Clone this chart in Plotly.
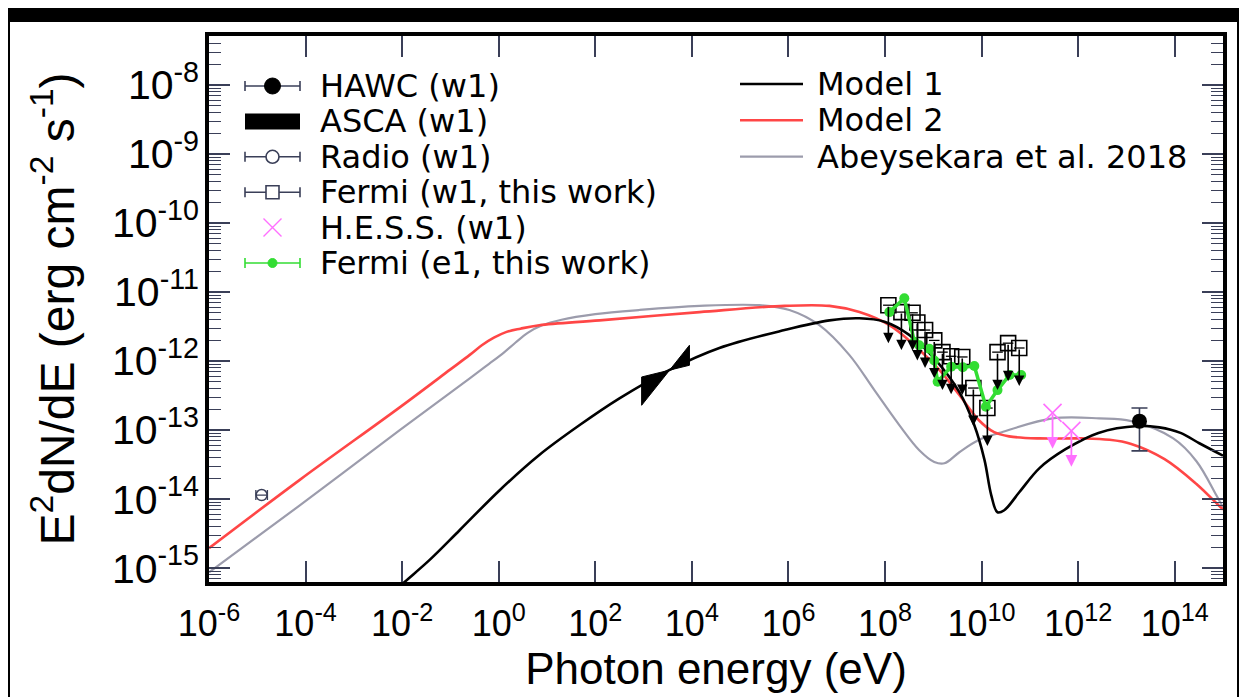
import numpy as np
import plotly.graph_objects as go

# ---------------- data (log10 E [eV], log10 E^2 dN/dE [erg cm^-2 s^-1]) -------------
model1_log_e = [-2.30, -1.95, -1.43, -0.81, 0.02, 0.84, 1.67, 2.50, 3.53, 4.57, 5.92, 6.85, 7.47,
                7.99, 8.50, 9.02, 9.54, 9.85, 10.06, 10.20, 10.33, 10.47, 10.78, 11.20, 11.73,
                12.42, 13.23, 13.68, 14.12, 14.51, 15.00]
model1_log_f = [-15.42, -15.20, -14.88, -14.45, -13.87, -13.36, -12.93, -12.54, -12.13, -11.81,
                -11.55, -11.41, -11.38, -11.43, -11.62, -11.96, -12.45, -12.93, -13.43, -13.94,
                -14.19, -14.16, -13.90, -13.55, -13.28, -13.04, -12.94, -12.96, -13.04, -13.19,
                -13.37]

model2_log_e = [-6.00, -4.12, -2.05, -1.00, -0.60, -0.35, -0.10, 0.15, 0.45, 0.84, 2.09, 4.16, 5.92,
                6.85, 7.47, 8.09, 8.61, 9.13, 9.54, 9.95, 10.26, 10.57, 11.20, 12.07, 12.65, 13.10,
                13.79, 14.45, 14.91, 15.00]
model2_log_f = [-14.71, -13.72, -12.67, -12.12, -11.91, -11.77, -11.66, -11.58, -11.53, -11.48,
                -11.41, -11.29, -11.20, -11.20, -11.29, -11.48, -11.77, -12.13, -12.49, -12.86,
                -13.03, -13.09, -13.12, -13.12, -13.14, -13.20, -13.42, -13.78, -14.09, -14.15]

abey_log_e = [-6.00, -4.12, -2.05, -0.60, -0.20, 0.10, 0.35, 0.60, 0.90, 1.30, 2.00, 2.90, 4.16,
              5.40, 6.02, 6.64, 7.26, 7.78, 8.30, 8.71, 9.02, 9.23, 9.54, 9.95, 10.37, 11.47, 12.44,
              13.10, 13.97, 14.45, 14.86, 15.00]
abey_log_f = [-15.06, -14.09, -13.00, -12.25, -12.04, -11.88, -11.73, -11.59, -11.48, -11.40,
              -11.32, -11.26, -11.20, -11.19, -11.26, -11.48, -11.91, -12.42, -12.93, -13.29,
              -13.46, -13.48, -13.32, -13.14, -13.04, -12.83, -12.83, -12.87, -13.12, -13.45,
              -13.94, -14.12]

# Fermi (e1, this work)
fermi_e1_log_e = [8.09, 8.40, 8.61, 8.71, 8.92, 9.02, 9.09, 9.37, 9.61, 9.85, 10.09, 10.33, 10.58, 10.82]
fermi_e1_log_f = [-11.29, -11.09, -11.72, -11.77, -11.82, -11.99, -12.30, -12.08, -12.09, -12.07,
                  -12.66, -12.42, -12.20, -12.20]

# Fermi (w1, this work) upper limits
fermi_w1_log_e = [8.07, 8.34, 8.57, 8.67, 8.83, 9.02, 9.19, 9.37, 9.60, 9.83, 10.12, 10.33, 10.55, 10.78]
fermi_w1_log_f = [-11.19, -11.29, -11.30, -11.44, -11.55, -11.70, -11.87, -11.93, -11.94, -12.39,
                  -12.68, -11.87, -11.74, -11.81]
fermi_w1_halfwidth_dex = 0.11
ul_arrow_dex = 0.55

# H.E.S.S. (w1) upper limits
hess_log_e = [11.47, 11.86]
hess_log_f = [-12.75, -13.01]

# HAWC (w1)
hawc_log_e = [13.27]
hawc_log_f = [-12.87]
hawc_log_f_hi = [-12.68]
hawc_log_f_lo = [-13.30]

# Radio (w1)
radio_log_e = [-4.91]
radio_log_f = [-13.94]
radio_halfwidth_dex = 0.12

# ASCA (w1) bow-tie
asca_log_e = [2.96, 3.95, 3.95, 2.96, 2.96]
asca_log_f = [-12.23, -12.06, -11.77, -12.64, -12.23]

# axes
x_tick_exp = [-6, -4, -2, 0, 2, 4, 6, 8, 10, 12, 14]
y_tick_exp = [-8, -9, -10, -11, -12, -13, -14, -15]
x_range = [-6, 15]
y_range = [-15.20, -7.29]

p10 = lambda a: np.power(10.0, np.asarray(a, dtype=float))

# ---------------- styling -------------
OFF = 8                      # page offset of the figure (body margin)
W, H = 1247 - OFF, 697 - OFF
ML, MR, MT, MB = 209 - OFF, 24, 36 - OFF, 115
BLACK = "#000000"
RED = "#ff4646"
GRAY = "#9c9cac"
GREEN = "#33dd33"
VIOLET = "#ff70ff"
TICKC = "#3a3f58"
FONT = "DejaVu Sans"
LAB_FONT = "Liberation Sans"

fig = go.Figure()

SM = 1.0
fig.add_trace(go.Scatter(x=p10(abey_log_e), y=p10(abey_log_f), mode="lines",
                         line=dict(color=GRAY, width=2.2, shape="spline", smoothing=SM),
                         showlegend=False))
fig.add_trace(go.Scatter(x=p10(model2_log_e), y=p10(model2_log_f), mode="lines",
                         line=dict(color=RED, width=2.6, shape="spline", smoothing=SM),
                         showlegend=False))
fig.add_trace(go.Scatter(x=p10(model1_log_e), y=p10(model1_log_f), mode="lines",
                         line=dict(color=BLACK, width=2.6, shape="spline", smoothing=SM),
                         showlegend=False))

# ASCA bow-tie
fig.add_trace(go.Scatter(x=p10(asca_log_e), y=p10(asca_log_f), mode="lines", fill="toself",
                         fillcolor=BLACK, line=dict(color=BLACK, width=1), showlegend=False))

# Fermi w1 squares with x error bars
fe = p10(fermi_w1_log_e)
fig.add_trace(go.Scatter(x=fe, y=p10(fermi_w1_log_f), mode="markers",
                         marker=dict(symbol="square-open", size=15, color=BLACK, line=dict(width=1.6)),
                         error_x=dict(type="data", array=fe * (10 ** fermi_w1_halfwidth_dex - 1),
                                      arrayminus=fe * (1 - 10 ** -fermi_w1_halfwidth_dex),
                                      color=BLACK, thickness=1.3, width=0),
                         showlegend=False))

# Fermi e1 green
fig.add_trace(go.Scatter(x=p10(fermi_e1_log_e), y=p10(fermi_e1_log_f), mode="lines+markers",
                         line=dict(color=GREEN, width=3.5),
                         marker=dict(color=GREEN, size=10), showlegend=False))

# HESS
fig.add_trace(go.Scatter(x=p10(hess_log_e), y=p10(hess_log_f), mode="markers",
                         marker=dict(symbol="x-thin-open", size=18, color=VIOLET, line=dict(width=1.6, color=VIOLET)),
                         showlegend=False))

# HAWC
hf = p10(hawc_log_f)
fig.add_trace(go.Scatter(x=p10(hawc_log_e), y=hf, mode="markers",
                         marker=dict(symbol="circle", size=15, color=BLACK),
                         error_y=dict(type="data", array=p10(hawc_log_f_hi) - hf,
                                      arrayminus=hf - p10(hawc_log_f_lo),
                                      color=TICKC, thickness=1.6, width=8),
                         showlegend=False))

# Radio
re_ = p10(radio_log_e)
fig.add_trace(go.Scatter(x=re_, y=p10(radio_log_f), mode="markers",
                         marker=dict(symbol="circle-open", size=11, color=TICKC, line=dict(width=1.5)),
                         error_x=dict(type="data", array=re_ * (10 ** radio_halfwidth_dex - 1),
                                      arrayminus=re_ * (1 - 10 ** -radio_halfwidth_dex),
                                      color=TICKC, thickness=1.3, width=5),
                         showlegend=False))

# empty trace so the label axis (y2) is drawn
fig.add_trace(go.Scatter(x=[], y=[], yaxis="y2", showlegend=False, hoverinfo="skip"))

annotations = []
# upper-limit arrows (annotation coords on log axes are log10 values)
for le, lf in zip(fermi_w1_log_e, fermi_w1_log_f):
    annotations.append(dict(x=le, y=lf - ul_arrow_dex, ax=le, ay=lf, xref="x", yref="y",
                            axref="x", ayref="y", showarrow=True, arrowhead=2, arrowsize=1.3,
                            arrowwidth=1.6, arrowcolor=BLACK, text=""))
for le, lf in zip(hess_log_e, hess_log_f):
    annotations.append(dict(x=le, y=lf - 0.52, ax=le, ay=lf, xref="x", yref="y",
                            axref="x", ayref="y", showarrow=True, arrowhead=2, arrowsize=1.3,
                            arrowwidth=1.8, arrowcolor=VIOLET, text=""))

# ---------------- manual legend (positions given in page pixels) -------------
PW, PH = W - ML - MR, H - MT - MB


def px(xp):
    return (xp - OFF - ML) / PW


def py(yp):
    return (H - MB - (yp - OFF)) / PH


shapes = []
# white page on black frame
shapes.append(dict(type="rect", xref="paper", yref="paper", x0=px(10), x1=px(1237), y0=py(700), y1=py(22),
                   fillcolor="white", line=dict(width=0), layer="below"))

leg1_names = ["HAWC (w1)", "ASCA (w1)", "Radio (w1)", "Fermi (w1, this work)", "H.E.S.S. (w1)",
              "Fermi (e1, this work)"]
leg1_y0, leg_dy = 86, 35.4
g_x0, g_x1, g_xc, txt_x = 245, 300, 272.5, 318
LEG_FONT = dict(family=FONT, size=32, color=BLACK)


def hline(y, color, width):
    return dict(type="line", xref="paper", yref="paper", x0=px(g_x0), x1=px(g_x1), y0=py(y), y1=py(y),
                line=dict(color=color, width=width))


def caps(y, color, width):
    return [dict(type="line", xref="paper", yref="paper", x0=px(xx), x1=px(xx), y0=py(y - 5), y1=py(y + 5),
                 line=dict(color=color, width=width)) for xx in (g_x0, g_x1)]


def pixshape(kind, xc, yc, half, **kw):
    return dict(type=kind, xref="paper", yref="paper", xsizemode="pixel", ysizemode="pixel",
                xanchor=px(xc), yanchor=py(yc), x0=-half, x1=half, y0=-half, y1=half, **kw)


for i, name in enumerate(leg1_names):
    y = leg1_y0 + i * leg_dy
    annotations.append(dict(x=px(txt_x), y=py(y), xref="paper", yref="paper", text=name, showarrow=False,
                            xanchor="left", yanchor="middle", font=LEG_FONT))
    if i == 0:
        shapes += [hline(y, TICKC, 1.6)] + caps(y, TICKC, 1.6)
        shapes.append(pixshape("circle", g_xc, y, 8, fillcolor=BLACK, line=dict(color=BLACK, width=1)))
    elif i == 1:
        shapes.append(dict(type="rect", xref="paper", yref="paper", x0=px(g_x0), x1=px(g_x1),
                           y0=py(y + 8), y1=py(y - 8), fillcolor=BLACK, line=dict(width=0)))
    elif i == 2:
        shapes += [hline(y, TICKC, 1.6)] + caps(y, TICKC, 1.6)
        shapes.append(pixshape("circle", g_xc, y, 6.5, fillcolor="white", line=dict(color=TICKC, width=1.6)))
    elif i == 3:
        shapes += [hline(y, TICKC, 1.6)] + caps(y, TICKC, 1.6)
        shapes.append(pixshape("rect", g_xc, y, 6.5, fillcolor="white", line=dict(color=TICKC, width=1.6)))
    elif i == 4:
        shapes.append(dict(type="path", xref="paper", yref="paper", xsizemode="pixel", ysizemode="pixel",
                           xanchor=px(g_xc), yanchor=py(y), path="M-9,-9 L9,9 M-9,9 L9,-9",
                           line=dict(color=VIOLET, width=1.4)))
    else:
        shapes += [hline(y, GREEN, 1.6)] + caps(y, GREEN, 1.6)
        shapes.append(pixshape("circle", g_xc, y, 4.5, fillcolor=GREEN, line=dict(color=GREEN, width=1)))

leg2_names = ["Model 1", "Model 2", "Abeysekara et al. 2018"]
leg2_colors = [BLACK, RED, GRAY]
leg2_y0 = 84
for i, (name, c) in enumerate(zip(leg2_names, leg2_colors)):
    y = leg2_y0 + i * 36.3
    shapes.append(dict(type="line", xref="paper", yref="paper", x0=px(740), x1=px(803), y0=py(y), y1=py(y),
                       line=dict(color=c, width=2.4)))
    annotations.append(dict(x=px(815), y=py(y), xref="paper", yref="paper", text=name, showarrow=False,
                            xanchor="left", yanchor="middle", font=LEG_FONT))

fig.update_layout(
    width=W, height=H, margin=dict(l=ML, r=MR, t=MT, b=MB, autoexpand=False),
    paper_bgcolor="black", plot_bgcolor="white",
    shapes=shapes, annotations=annotations, showlegend=False,
    font=dict(family=FONT, color=BLACK),
)

fig.update_xaxes(
    type="log", range=x_range, showgrid=False, zeroline=False, automargin=False,
    showline=True, linecolor=BLACK, linewidth=3.5, mirror="ticks",
    ticks="inside", ticklen=21, tickwidth=1.6, tickcolor=TICKC,
    tickvals=[10.0 ** e for e in x_tick_exp],
    ticktext=["10<sup>%d</sup>" % e for e in x_tick_exp],
    tickfont=dict(family=LAB_FONT, size=36, color=BLACK),
    ticklabelstandoff=7,
    title=dict(text="Photon energy (eV)", font=dict(family=LAB_FONT, size=44, color=BLACK), standoff=0),
)
# tick marks (major + minor), no labels
fig.update_layout(yaxis=dict(
    type="log", range=y_range, showgrid=False, zeroline=False, automargin=False,
    showline=True, linecolor=BLACK, linewidth=3.5, mirror="ticks",
    ticks="inside", ticklen=21, tickwidth=1.6, tickcolor=TICKC,
    tickmode="linear", tick0=0, dtick=1, showticklabels=False,
    minor=dict(ticks="inside", ticklen=12, tickwidth=1.3, tickcolor=TICKC, dtick="D1"),
))
# labels and title on an overlaid axis
fig.update_layout(yaxis2=dict(
    type="log", range=y_range, overlaying="y", side="left", anchor="x",
    showgrid=False, zeroline=False, showline=False, automargin=False, ticks="",
    tickvals=[10.0 ** e for e in y_tick_exp],
    ticktext=["10<sup>%d</sup>" % e for e in y_tick_exp],
    tickfont=dict(family=LAB_FONT, size=41, color=BLACK),
    ticklabelstandoff=9,
    title=dict(text="E<sup>2</sup>dN/dE (erg cm<sup>-2</sup> s<sup>-1</sup>)",
               font=dict(family=LAB_FONT, size=48, color=BLACK), standoff=22),
))

fig.write_html("out.html")
